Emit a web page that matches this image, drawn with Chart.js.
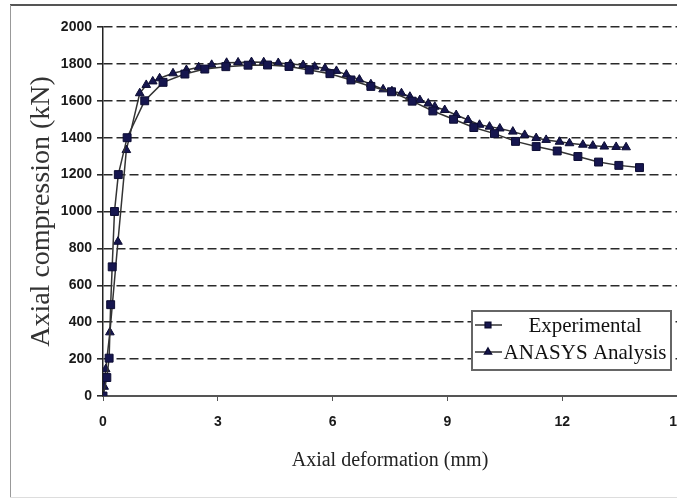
<!DOCTYPE html>
<html>
<head>
<meta charset="utf-8">
<script src="https://cdn.jsdelivr.net/npm/chart.js@4.4.1/dist/chart.umd.min.js"></script>
<style>
  html, body { margin: 0; padding: 0; background: #fff; overflow: hidden; }
  #wrap { position: relative; width: 720px; height: 501px; }
</style>
</head>
<body>
<div id="wrap"><canvas id="chart" width="720" height="501"></canvas></div>
<script>
// values
const expX = [0, 0.1, 0.16, 0.2, 0.24, 0.3, 0.4, 0.63, 1.09, 1.57, 2.14, 2.66, 3.21, 3.79, 4.3, 4.86, 5.39, 5.93, 6.48, 7.0, 7.54, 8.08, 8.62, 9.16, 9.69, 10.23, 10.78, 11.32, 11.87, 12.41, 12.95, 13.48, 14.02];
const expY = [0, 100, 205, 495, 700, 1000, 1200, 1400, 1600, 1700, 1745, 1772, 1785, 1793, 1794, 1786, 1767, 1747, 1713, 1678, 1649, 1598, 1545, 1500, 1455, 1422, 1380, 1352, 1328, 1298, 1268, 1250, 1238];

const ansX = [0, 0.03, 0.07, 0.18, 0.39, 0.61, 0.96, 1.13, 1.3, 1.48, 1.83, 2.18, 2.5, 2.84, 3.23, 3.53, 3.88, 4.2, 4.58, 4.9, 5.23, 5.53, 5.8, 6.1, 6.36, 6.7, 7.0, 7.32, 7.55, 7.8, 8.02, 8.28, 8.5, 8.67, 8.93, 9.23, 9.54, 9.84, 10.1, 10.37, 10.71, 11.02, 11.32, 11.58, 11.93, 12.19, 12.54, 12.8, 13.1, 13.41, 13.67];
const ansY = [0, 50, 145, 345, 836, 1333, 1641, 1686, 1705, 1722, 1749, 1767, 1782, 1795, 1806, 1808, 1810, 1809, 1805, 1800, 1794, 1785, 1776, 1762, 1742, 1715, 1690, 1662, 1652, 1641, 1622, 1604, 1585, 1568, 1550, 1523, 1496, 1470, 1460, 1450, 1433, 1415, 1398, 1388, 1378, 1370, 1362, 1357, 1352, 1350, 1348];

const xTicks = [0, 3, 6, 9, 12, 15];
const yTicks = [0, 200, 400, 600, 800, 1000, 1200, 1400, 1600, 1800, 2000];

const toPoints = (xs, ys) => xs.map((x, i) => ({ x: x, y: ys[i] }));

const tickFont = { family: "'Liberation Sans', Arial, sans-serif", size: 14, weight: "bold" };
const serif = "'Liberation Serif', 'DejaVu Serif', serif";

// page frame around the figure
const framePlugin = {
  id: "frame",
  beforeDraw(chart) {
    const ctx = chart.ctx;
    ctx.save();
    ctx.fillStyle = "#fff";
    ctx.fillRect(0, 0, chart.width, chart.height);
    ctx.lineWidth = 2;
    ctx.strokeStyle = "#555";
    ctx.beginPath(); ctx.moveTo(10, 5); ctx.lineTo(chart.width, 5); ctx.stroke();
    ctx.lineWidth = 1;
    ctx.strokeStyle = "#999";
    ctx.beginPath(); ctx.moveTo(10.5, 5); ctx.lineTo(10.5, 497); ctx.stroke();
    ctx.strokeStyle = "#ddd";
    ctx.beginPath(); ctx.moveTo(10, 497.5); ctx.lineTo(chart.width, 497.5); ctx.stroke();
    ctx.restore();
  }
};

// boxed legend inside the plot, lower right
const boxLegend = {
  id: "boxLegend",
  afterDraw(chart) {
    const ctx = chart.ctx;
    const x0 = 472, y0 = 311, w = 199, h = 59;
    ctx.save();
    ctx.fillStyle = "#fff";
    ctx.fillRect(x0, y0, w, h);
    ctx.lineWidth = 2;
    ctx.strokeStyle = "#666";
    ctx.strokeRect(x0, y0, w, h);
    chart.data.datasets.forEach((ds, i) => {
      const y = y0 + 14 + i * 27;
      ctx.strokeStyle = "#333";
      ctx.lineWidth = 1.5;
      ctx.beginPath(); ctx.moveTo(x0 + 3, y); ctx.lineTo(x0 + 30, y); ctx.stroke();
      ctx.fillStyle = ds.pointBackgroundColor;
      ctx.strokeStyle = ds.pointBorderColor;
      Chart.helpers.drawPoint(ctx, { pointStyle: ds.pointStyle, radius: 4, borderWidth: 1, rotation: 0 }, x0 + 16, y);
      ctx.fillStyle = "#111";
      ctx.font = "21px " + serif;
      ctx.textAlign = "center";
      ctx.textBaseline = "middle";
      ctx.fillText(ds.label, x0 + 113, y + 1);
    });
    ctx.restore();
  }
};

new Chart(document.getElementById("chart"), {
  type: "line",
  data: {
    datasets: [
      {
        label: "Experimental",
        data: toPoints(expX, expY),
        borderColor: "#333",
        borderWidth: 1.5,
        pointStyle: "rect",
        pointRadius: 5.6,
        pointBackgroundColor: "#16164f",
        pointBorderColor: "#0d0d33",
        pointBorderWidth: 1,
        tension: 0,
        order: 0,
      },
      {
        label: "ANASYS Analysis",
        data: toPoints(ansX, ansY),
        borderColor: "#333",
        borderWidth: 1.5,
        pointStyle: "triangle",
        pointRadius: 5,
        pointBackgroundColor: "#16164f",
        pointBorderColor: "#0d0d33",
        pointBorderWidth: 1,
        tension: 0,
        order: 1,
      },
    ],
  },
  options: {
    responsive: false,
    animation: false,
    layout: { padding: { left: 16, top: 27, right: 43, bottom: 0 } },
    plugins: {
      legend: { display: false },
      tooltip: { enabled: false },
    },
    scales: {
      x: {
        type: "linear",
        min: 0,
        max: 15,
        afterBuildTicks: (scale) => { scale.ticks = xTicks.map((v) => ({ value: v })); },
        afterFit: (scale) => { scale.height = 105; },
        grid: { drawOnChartArea: false, drawTicks: true, tickLength: 5, color: "#555", lineWidth: 1 },
        border: { display: true, color: "#555", width: 2 },
        ticks: { color: "#1a1a1a", font: tickFont, padding: 13, maxRotation: 0, callback: (v) => String(v) },
        title: { display: true, text: "Axial deformation (mm)", color: "#222", font: { family: serif, size: 20 }, padding: { top: 0, bottom: 28 } },
      },
      y: {
        min: 0,
        max: 2000,
        afterBuildTicks: (scale) => { scale.ticks = yTicks.map((v) => ({ value: v })); },
        afterFit: (scale) => { scale.width = 87; },
        grid: { color: "#2a2a2a", lineWidth: 1.6, tickLength: 6, tickBorderDash: [] },
        border: { display: true, color: "#222", width: 1.5, dash: [9, 4] },
        ticks: { color: "#1a1a1a", font: tickFont, padding: 5, callback: (v) => String(v) },
        title: { display: true, text: "Axial compression (kN)", color: "#333", font: { family: serif, size: 28 }, padding: { top: 9, bottom: 0 } },
      },
    },
  },
  plugins: [framePlugin, boxLegend],
});
</script>
</body>
</html>
